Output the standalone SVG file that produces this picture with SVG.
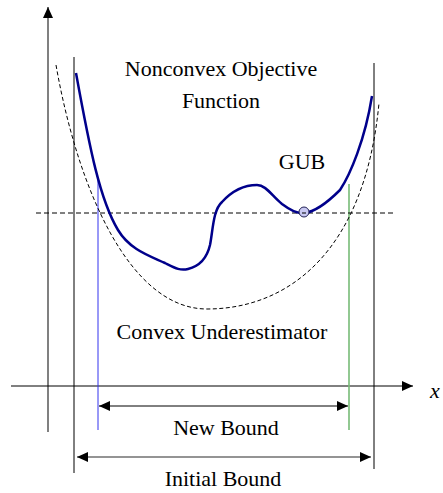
<svg xmlns="http://www.w3.org/2000/svg" width="443" height="493" viewBox="0 0 443 493">
<style>
.lbl{font-family:'Liberation Serif','Times New Roman','DejaVu Serif',serif;font-size:22px;fill:#000;}
.ax{stroke:#000;stroke-width:1;fill:none;}
.dash{stroke:#000;stroke-width:1;fill:none;stroke-dasharray:5,3;}
.cdash{stroke:#000;stroke-width:1;fill:none;stroke-dasharray:4,2.5;}
</style>
<defs>
<marker id="ah" viewBox="0 0 11 10" refX="11" refY="5" markerWidth="11" markerHeight="10" markerUnits="userSpaceOnUse" orient="auto-start-reverse">
<path d="M0,0 L11,5 L0,10 Z" fill="#000"/>
</marker>
</defs>
<rect width="443" height="493" fill="#fff"/>
<g id="connectors">
<line x1="48" y1="432" x2="48" y2="7" stroke="#808080" stroke-width="2" marker-end="url(#ah)"/>
<line x1="11" y1="386" x2="413" y2="386" class="ax" marker-end="url(#ah)"/>
<line x1="74" y1="57" x2="74" y2="473" class="ax"/>
<line x1="374" y1="63" x2="374" y2="469" class="ax"/>
<line x1="98" y1="178" x2="98" y2="430" stroke="#3333ee" stroke-width="1"/>
<line x1="349" y1="184" x2="349" y2="430" stroke="#77bb77" stroke-width="1.6"/>
<line x1="36" y1="213" x2="396" y2="213" class="dash"/>
<line x1="99" y1="406" x2="348" y2="406" stroke="#000" stroke-width="1" marker-start="url(#ah)" marker-end="url(#ah)"/>
<line x1="77" y1="457" x2="371" y2="457" stroke="#707070" stroke-width="1.5" marker-start="url(#ah)" marker-end="url(#ah)"/>
</g>
<g id="underestimator">
<path class="cdash" d="M56,65 C78,190 130,309 207,309 C288,309 365,252 379,103"/>
</g>
<g id="objective">
<path fill="none" stroke="#00008B" stroke-width="2.5" stroke-linejoin="round" d="M76,73 C90,150 100,200 118,230 C130,250 150,256 165,263 C175,268 180,271 188,269 C200,266 207,258 210,245 C213,230 213,210 222,202 C232,191 245,185 257,185 C266,185 272,196 282,204 C290,210 298,214 304,213 C315,212 330,200 340,190 C350,175 365,140 372,96"/>
</g>
<g id="gub">
<circle cx="304" cy="212" r="5" fill="#c8c8f2" stroke="#222255" stroke-width="1"/>
<line x1="302" y1="213" x2="306" y2="213" stroke="#000" stroke-width="1"/>
</g>
<g id="labels" font-family="Liberation Serif, Times New Roman, DejaVu Serif, serif" font-size="22">
<text class="lbl" x="221" y="76" text-anchor="middle">Nonconvex Objective</text>
<text class="lbl" x="221" y="108" text-anchor="middle">Function</text>
<text class="lbl" x="302" y="169" text-anchor="middle">GUB</text>
<text class="lbl" x="222" y="339" text-anchor="middle">Convex Underestimator</text>
<text class="lbl" x="226" y="435" text-anchor="middle">New Bound</text>
<text class="lbl" x="223" y="486" text-anchor="middle">Initial Bound</text>
<text class="lbl" x="430" y="398" font-style="italic">x</text>
</g>
</svg>
